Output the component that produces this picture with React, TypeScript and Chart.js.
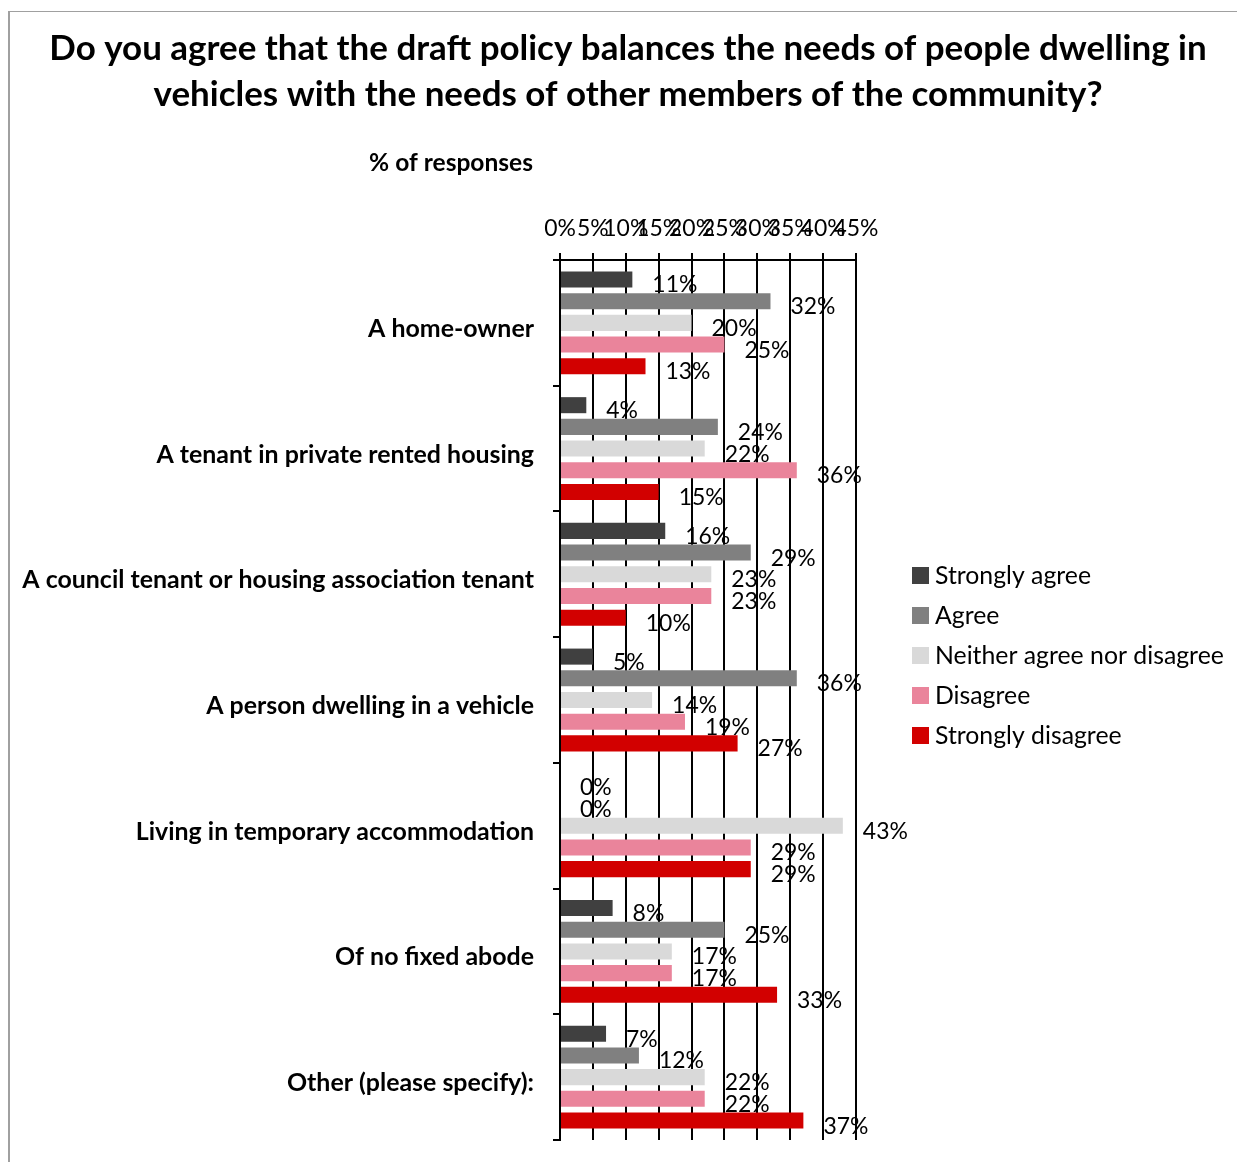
import React, { useEffect, useRef } from "react";
import { Chart, registerables } from "chart.js";

Chart.register(...registerables);

const TITLE_LINES = [
  "Do you agree that the draft policy balances the needs of people dwelling in",
  "vehicles with the needs of other members of the community?",
];
const AXIS_TITLE = "% of responses";

const categories = [
  "A home-owner",
  "A tenant in private rented housing",
  "A council tenant or housing association tenant",
  "A person dwelling in a vehicle",
  "Living in temporary accommodation",
  "Of no fixed abode",
  "Other (please specify):",
];

const seriesNames = [
  "Strongly agree",
  "Agree",
  "Neither agree nor disagree",
  "Disagree",
  "Strongly disagree",
];
const seriesColors = ["#404040", "#808080", "#d9d9d9", "#ea849b", "#d20000"];

const stronglyAgree = [11, 4, 16, 5, 0, 8, 7];
const agree = [32, 24, 29, 36, 0, 25, 12];
const neither = [20, 22, 23, 14, 43, 17, 22];
const disagree = [25, 36, 23, 19, 29, 17, 22];
const stronglyDisagree = [13, 15, 10, 27, 29, 33, 37];
const seriesValues = [stronglyAgree, agree, neither, disagree, stronglyDisagree];

const xMin = 0;
const xMax = 45;
const xStep = 5;

const FAMILY = "Lato";

function fitSize(text: string, weight: string, target: number) {
  const c = document.createElement("canvas").getContext("2d")!;
  c.font = `${weight} 100px ${FAMILY}`;
  return (100 * target) / c.measureText(text).width;
}

const W = 1235;
const H = 1150;
const CA = { left: 550, right: 846, top: 248, bottom: 1128 };

export default function App() {
  const ref = useRef<HTMLCanvasElement>(null);

  useEffect(() => {
    document.body.style.overflow = "hidden";
    const titleSize = fitSize(TITLE_LINES[0], "bold", 1158);
    const catSize = fitSize(categories[2], "bold", 512);
    const labelSize = fitSize("43%", "normal", 45);
    const legendSize = fitSize(seriesNames[2], "normal", 289);
    const axisTitleSize = fitSize(AXIS_TITLE, "bold", 164);
    const tickLH = labelSize * 1.2;

    const decor = {
      id: "decor",
      afterDatasetsDraw(chart: any) {
        const ctx = chart.ctx;
        ctx.save();
        ctx.fillStyle = "#000";
        ctx.textBaseline = "alphabetic";
        ctx.textAlign = "left";
        ctx.font = `normal ${labelSize}px ${FAMILY}`;
        chart.data.datasets.forEach((ds: any, di: number) => {
          const meta = chart.getDatasetMeta(di);
          meta.data.forEach((el: any, j: number) => {
            const v = ds.data[j];
            ctx.fillText(`${Math.round(v)}%`, el.x + 20, el.y + 13);
          });
        });
        ctx.restore();
      },
      afterDraw(chart: any) {
        const ctx = chart.ctx;
        ctx.save();
        ctx.fillStyle = "#000";
        ctx.textBaseline = "alphabetic";
        ctx.textAlign = "center";
        ctx.font = `bold ${titleSize}px ${FAMILY}`;
        ctx.fillText(TITLE_LINES[0], 618, 48);
        ctx.fillText(TITLE_LINES[1], 618, 94);
        ctx.textAlign = "right";
        ctx.font = `bold ${axisTitleSize}px ${FAMILY}`;
        ctx.fillText(AXIS_TITLE, 523, 159);
        ctx.textAlign = "left";
        ctx.font = `normal ${legendSize}px ${FAMILY}`;
        chart.data.datasets.forEach((ds: any, i: number) => {
          ctx.fillStyle = ds.backgroundColor;
          ctx.fillRect(902, 555 + 40 * i, 17, 17);
          ctx.fillStyle = "#000";
          ctx.fillText(ds.label, 925, 572 + 40 * i);
        });
        ctx.restore();
      },
    };

    const chart = new Chart(ref.current!, {
      type: "bar",
      data: {
        labels: categories,
        datasets: seriesValues.map((vals, i) => ({
          label: seriesNames[i],
          data: vals,
          backgroundColor: seriesColors[i],
          borderWidth: 0,
          categoryPercentage: 0.863,
          barPercentage: 0.74,
        })),
      },
      options: {
        indexAxis: "y",
        responsive: false,
        animation: false,
        layout: {
          padding: { left: 0, right: W - CA.right, top: 0, bottom: H - CA.bottom },
        },
        plugins: {
          legend: { display: false },
          title: { display: false },
          tooltip: { enabled: false },
        },
        scales: {
          x: {
            position: "top",
            min: xMin,
            max: xMax,
            afterFit: (s: any) => {
              s.height = CA.top;
              s.paddingLeft = 0;
              s.paddingRight = 0;
            },
            ticks: {
              stepSize: xStep,
              autoSkip: false,
              maxRotation: 0,
              minRotation: 0,
              color: "#000",
              padding: 24 - tickLH / 2,
              font: { family: FAMILY, size: labelSize, lineHeight: 1.2 },
              callback: (v: any) => `${v}%`,
            },
            grid: { color: "#000", lineWidth: 2, tickLength: 7, drawTicks: true },
            border: { display: true, color: "#000", width: 2 },
          },
          y: {
            afterFit: (s: any) => {
              s.width = CA.left;
              s.paddingTop = 0;
              s.paddingBottom = 0;
            },
            ticks: {
              color: "#000",
              padding: 19,
              labelOffset: 6,
              font: { family: FAMILY, size: catSize, weight: "bold" },
            },
            grid: {
              drawOnChartArea: false,
              drawTicks: true,
              tickLength: 7,
              color: "#000",
              lineWidth: 2,
              offset: true,
            },
            border: { display: true, color: "#000", width: 2 },
          },
        },
      },
      plugins: [decor],
    });
    return () => chart.destroy();
  }, []);

  return (
    <div style={{ paddingTop: 3 }}>
      <div
        style={{
          borderTop: "1px solid #a0a0a0",
          borderLeft: "2px solid #a0a0a0",
          width: W,
          height: H,
        }}
      >
        <canvas ref={ref} width={W} height={H} style={{ display: "block" }} />
      </div>
    </div>
  );
}
